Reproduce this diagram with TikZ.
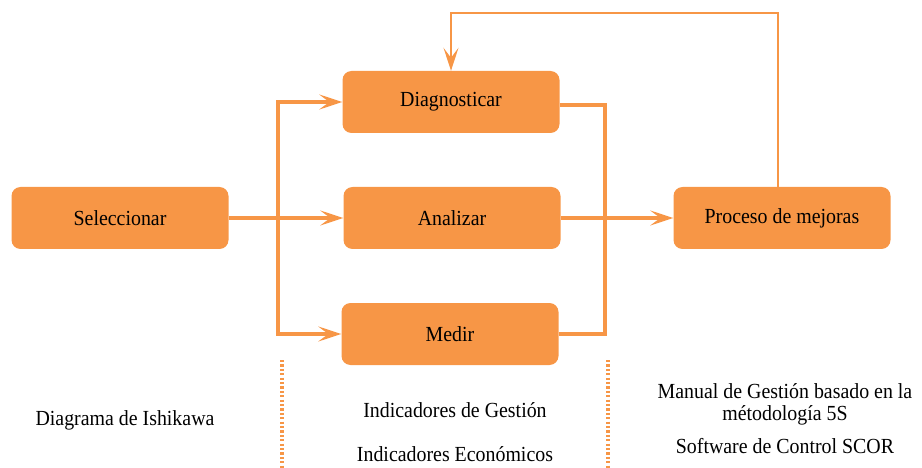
\documentclass[tikz,border=0pt]{standalone}
\usepackage{fontspec}
\setmainfont{Liberation Serif}[FakeStretch=0.925]
\usetikzlibrary{arrows.meta}
\definecolor{org}{HTML}{F79646}
\begin{document}
\begin{tikzpicture}[x=1pt,y=-1pt,
  box/.style={draw=none,fill=org,rounded corners=9pt,minimum width=217pt,minimum height=62pt,inner sep=0pt,font=\fontsize{21.5}{25}\selectfont},
  lbl/.style={font=\fontsize{21.5}{25}\selectfont,inner sep=0pt,align=center},
  conn/.style={draw=org,line width=3.2pt},
  thin/.style={draw=org,line width=2.2pt},
  arr/.style={-{Stealth[length=23pt,width=15pt,inset=10pt]}},
  dots/.style={draw=org,line width=3.2pt,dash pattern=on 2.2pt off 2.2pt}]
\useasboundingbox (0,0) rectangle (922,468);
\node[box] (sel) at (120,218) {Seleccionar};
\node[box] (dia) at (451,102) {Diagnosticar};
\node[box] (ana) at (452,218) {Analizar};
\node[box] (med) at (450,334) {Medir};
\node[box] (pro) at (782,218) {Proceso de mejoras};
\coordinate (bl) at (278,218);
\coordinate (br) at (605,218);
\coordinate (top) at (778,13);
% left fan-out
\draw[conn] (sel.east) -- (bl);
\draw[conn,arr] (bl) -- (ana.west);
\draw[conn,arr] (bl) |- (dia.west);
\draw[conn,arr] (bl) |- (med.west);
% right collect
\draw[conn] ([yshift=-3pt]dia.east) -| (br);
\draw[conn] (med.east) -| (br);
\draw[conn,arr] (ana.east) -- (pro.west);
% feedback
\draw[thin,arr] (pro.north -| top) -- (top) -| (dia.north);
% dotted separators
\coordinate (d1a) at (282,360); \coordinate (d1b) at (282,468);
\coordinate (d2a) at (608,360); \coordinate (d2b) at (608,468);
\draw[dots] (d1a) -- (d1b);
\draw[dots] (d2a) -- (d2b);
% texts
\node[lbl] (t1) at (125,420) {Diagrama de Ishikawa};
\node[lbl] (t2) at (455,410) {Indicadores de Gestión};
\node[lbl] (t3) at (455,454) {Indicadores Económicos};
\node[lbl] (t4) at (785,391) {Manual de Gestión basado en la};
\node[lbl] (t5) at (785,415) {métodología 5S};
\node[lbl] (t6) at (785,446) {Software de Control SCOR};
\end{tikzpicture}
\end{document}
